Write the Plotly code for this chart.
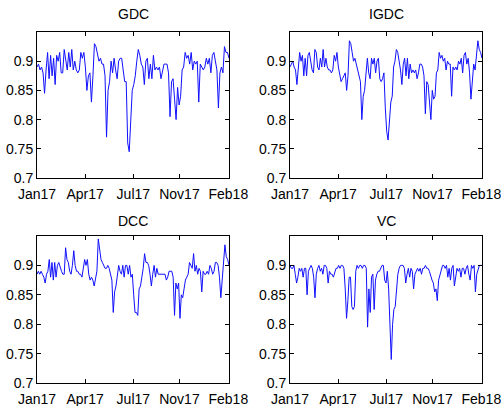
import numpy as np
import plotly.graph_objects as go

titles = ["GDC", "IGDC", "DCC", "VC"]

gdc = [0.89, 0.895, 0.885, 0.89, 0.88, 0.845, 0.885, 0.915, 0.87, 0.91, 0.875, 0.905, 0.86, 0.91,
       0.9, 0.915, 0.88, 0.88, 0.92, 0.905, 0.885, 0.915, 0.89, 0.92, 0.885, 0.9, 0.885, 0.88,
       0.885, 0.915, 0.905, 0.915, 0.89, 0.85, 0.875, 0.88, 0.83, 0.875, 0.93, 0.925, 0.91, 0.9,
       0.905, 0.895, 0.895, 0.875, 0.77, 0.85, 0.865, 0.9, 0.88, 0.905, 0.885, 0.87, 0.9, 0.905,
       0.905, 0.885, 0.865, 0.865, 0.76, 0.745, 0.8, 0.85, 0.86, 0.875, 0.9, 0.92, 0.91, 0.895,
       0.89, 0.86, 0.9, 0.905, 0.87, 0.895, 0.87, 0.91, 0.885, 0.89, 0.885, 0.89, 0.87, 0.885,
       0.895, 0.895, 0.895, 0.88, 0.805, 0.865, 0.87, 0.835, 0.8, 0.855, 0.825, 0.84, 0.885, 0.89,
       0.915, 0.905, 0.91, 0.895, 0.915, 0.885, 0.9, 0.895, 0.9, 0.83, 0.895, 0.89, 0.885, 0.89,
       0.905, 0.895, 0.905, 0.88, 0.91, 0.915, 0.9, 0.885, 0.82, 0.88, 0.89, 0.88, 0.925, 0.915,
       0.915, 0.905]

igdc = [0.89, 0.895, 0.9, 0.89, 0.885, 0.86, 0.885, 0.915, 0.9, 0.91, 0.875, 0.905, 0.875, 0.91,
        0.915, 0.9, 0.885, 0.88, 0.92, 0.915, 0.89, 0.885, 0.905, 0.89, 0.92, 0.89, 0.905, 0.89,
        0.885, 0.885, 0.88, 0.885, 0.91, 0.9, 0.915, 0.89, 0.88, 0.865, 0.87, 0.875, 0.88, 0.85,
        0.875, 0.935, 0.93, 0.915, 0.9, 0.905, 0.895, 0.885, 0.87, 0.865, 0.8, 0.84, 0.85, 0.875,
        0.905, 0.88, 0.87, 0.905, 0.895, 0.905, 0.88, 0.9, 0.905, 0.87, 0.865, 0.87, 0.88, 0.82,
        0.78, 0.765, 0.8, 0.83, 0.84, 0.89, 0.9, 0.92, 0.915, 0.9, 0.885, 0.86, 0.895, 0.905,
        0.875, 0.905, 0.87, 0.895, 0.88, 0.885, 0.88, 0.885, 0.87, 0.88, 0.895, 0.895, 0.89, 0.875,
        0.81, 0.865, 0.86, 0.83, 0.8, 0.85, 0.835, 0.84, 0.88, 0.885, 0.915, 0.905, 0.91, 0.9,
        0.905, 0.885, 0.9, 0.895, 0.895, 0.84, 0.89, 0.885, 0.89, 0.885, 0.9, 0.895, 0.905, 0.88,
        0.91, 0.915, 0.895, 0.905, 0.88, 0.835, 0.87, 0.895, 0.885, 0.905, 0.935, 0.92, 0.915,
        0.905]

dcc = [0.885, 0.89, 0.885, 0.89, 0.885, 0.88, 0.87, 0.885, 0.89, 0.91, 0.88, 0.905, 0.875, 0.905,
       0.88, 0.9, 0.905, 0.895, 0.89, 0.885, 0.885, 0.93, 0.91, 0.905, 0.89, 0.885, 0.9, 0.925,
       0.9, 0.89, 0.89, 0.885, 0.885, 0.88, 0.895, 0.91, 0.9, 0.91, 0.885, 0.875, 0.88, 0.875,
       0.865, 0.875, 0.89, 0.945, 0.93, 0.91, 0.905, 0.9, 0.895, 0.895, 0.9, 0.895, 0.885, 0.875,
       0.82, 0.855, 0.865, 0.88, 0.9, 0.89, 0.885, 0.9, 0.88, 0.9, 0.9, 0.885, 0.9, 0.88, 0.885,
       0.85, 0.82, 0.82, 0.815, 0.86, 0.865, 0.88, 0.895, 0.92, 0.905, 0.905, 0.9, 0.885, 0.865,
       0.885, 0.9, 0.88, 0.895, 0.885, 0.885, 0.885, 0.885, 0.885, 0.885, 0.875, 0.88, 0.89, 0.89,
       0.89, 0.88, 0.815, 0.87, 0.86, 0.87, 0.81, 0.85, 0.845, 0.86, 0.875, 0.88, 0.885, 0.905,
       0.9, 0.895, 0.92, 0.89, 0.9, 0.885, 0.895, 0.89, 0.855, 0.89, 0.885, 0.885, 0.89, 0.885,
       0.9, 0.895, 0.885, 0.89, 0.905, 0.905, 0.9, 0.88, 0.845, 0.88, 0.9, 0.935, 0.915, 0.91,
       0.9]

vc = [0.9, 0.895, 0.895, 0.9, 0.885, 0.87, 0.88, 0.895, 0.89, 0.895, 0.88, 0.895, 0.895, 0.85,
      0.89, 0.895, 0.9, 0.895, 0.88, 0.845, 0.885, 0.895, 0.9, 0.89, 0.895, 0.885, 0.9, 0.9,
      0.895, 0.87, 0.89, 0.885, 0.885, 0.88, 0.89, 0.895, 0.895, 0.9, 0.895, 0.9, 0.9, 0.895,
      0.86, 0.81, 0.84, 0.88, 0.88, 0.83, 0.825, 0.83, 0.89, 0.9, 0.895, 0.9, 0.9, 0.895, 0.9,
      0.9, 0.895, 0.795, 0.86, 0.82, 0.88, 0.885, 0.825, 0.875, 0.885, 0.89, 0.89, 0.895, 0.9,
      0.9, 0.875, 0.87, 0.89, 0.86, 0.8, 0.74, 0.8, 0.825, 0.83, 0.86, 0.885, 0.895, 0.9, 0.9,
      0.9, 0.895, 0.87, 0.885, 0.895, 0.88, 0.895, 0.89, 0.86, 0.885, 0.89, 0.895, 0.89, 0.895,
      0.885, 0.895, 0.895, 0.9, 0.895, 0.895, 0.89, 0.88, 0.875, 0.87, 0.855, 0.86, 0.84, 0.875,
      0.885, 0.895, 0.9, 0.9, 0.895, 0.9, 0.88, 0.895, 0.875, 0.895, 0.9, 0.865, 0.885, 0.895,
      0.89, 0.895, 0.88, 0.895, 0.895, 0.885, 0.895, 0.9, 0.885, 0.875, 0.9, 0.895, 0.9, 0.855,
      0.885, 0.895, 0.9, 0.9, 0.9]

series = [gdc, igdc, dcc, vc]

n_days = 280
tick_days = [0, 70, 140, 207, 278]
tick_text = ["Jan17", "Apr17", "Jul17", "Nov17", "Feb18"]
y_ticks = [0.7, 0.75, 0.8, 0.85, 0.9]
y_tick_text = ["0.7", "0.75", "0.8", "0.85", "0.9"]

W, H = 501, 406
# pixel boxes (left, right, top, bottom)
boxes = [(37, 229, 32, 178), (290, 482, 32, 178), (37, 229, 236, 383), (290, 482, 236, 383)]
title_y = [14, 14, 221, 221]

font = "Liberation Sans, Arial, Helvetica, sans-serif"
fig = go.Figure()
annotations = []
for i, (vals, box) in enumerate(zip(series, boxes)):
    l, r, t, b = box
    xa = "x" if i == 0 else f"x{i+1}"
    ya = "y" if i == 0 else f"y{i+1}"
    xdays = np.linspace(0, n_days - 1, len(vals))
    fig.add_trace(go.Scatter(x=xdays, y=vals, mode="lines", xaxis=xa, yaxis=ya,
                             line=dict(color="#1010ff", width=1), showlegend=False))
    axis_common = dict(showline=True, linecolor="black", linewidth=1, mirror="ticks",
                       ticks="inside", ticklen=4, tickcolor="black", showgrid=False,
                       zeroline=False, automargin=False, ticklabeloverflow="allow",
                       tickfont=dict(family=font, size=14, color="black"))
    fig.layout["xaxis" if i == 0 else f"xaxis{i+1}"] = dict(
        domain=[l / W, r / W], anchor=ya, range=[0, n_days - 1],
        tickvals=tick_days, ticktext=tick_text, ticklabelstandoff=3, **axis_common)
    fig.layout["yaxis" if i == 0 else f"yaxis{i+1}"] = dict(
        domain=[1 - b / H, 1 - t / H], anchor=xa, range=[0.7, 0.95],
        tickvals=y_ticks, ticktext=y_tick_text, **axis_common)
    annotations.append(dict(text=titles[i], x=(l + r) / 2 / W, y=1 - title_y[i] / H,
                            xref="paper", yref="paper", showarrow=False,
                            xanchor="center", yanchor="middle",
                            font=dict(family=font, size=14, color="black")))

fig.update_layout(width=W, height=H, margin=dict(l=0, r=0, t=0, b=0),
                  paper_bgcolor="white", plot_bgcolor="white", annotations=annotations)
fig.write_html("out.html")
